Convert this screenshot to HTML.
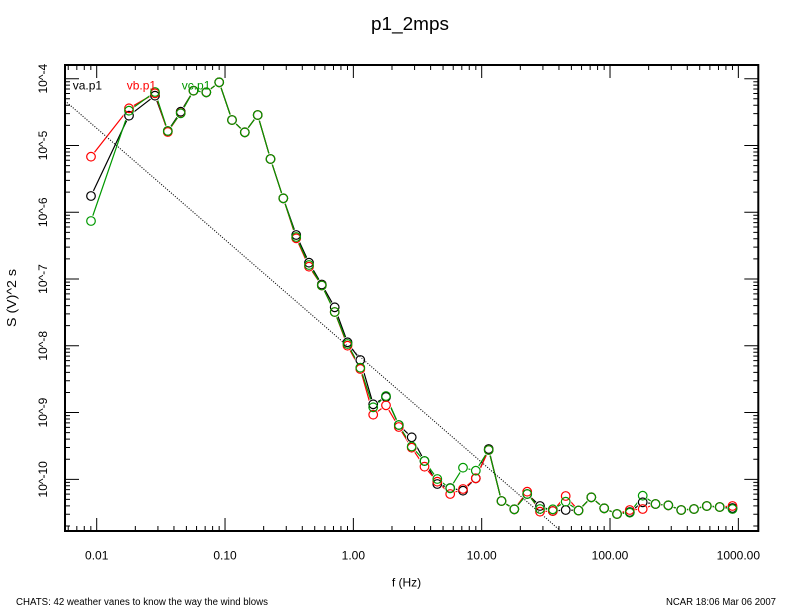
<!DOCTYPE html>
<html><head><meta charset="utf-8"><style>
html,body{margin:0;padding:0;background:#fff;}
svg{display:block;font-family:"Liberation Sans",Arial,sans-serif;}
</style></head><body>
<svg width="792" height="612" viewBox="0 0 792 612" xmlns="http://www.w3.org/2000/svg" xmlns:xlink="http://www.w3.org/1999/xlink">
<defs>
<path id="ytk" d="M65 78.7h14M65 145.47h14M65 212.24h14M65 279.01h14M65 345.78h14M65 412.55h14M65 479.32h14
M65 81.76h5M65 85.17h5M65 89.04h5M65 93.51h5M65 98.8h5M65 105.27h5M65 113.61h5M65 125.37h5
M65 148.53h5M65 151.94h5M65 155.81h5M65 160.28h5M65 165.57h5M65 172.04h5M65 180.38h5M65 192.14h5
M65 215.3h5M65 218.71h5M65 222.58h5M65 227.05h5M65 232.34h5M65 238.81h5M65 247.15h5M65 258.91h5
M65 282.07h5M65 285.48h5M65 289.35h5M65 293.82h5M65 299.11h5M65 305.58h5M65 313.92h5M65 325.68h5
M65 348.84h5M65 352.25h5M65 356.12h5M65 360.59h5M65 365.88h5M65 372.35h5M65 380.69h5M65 392.45h5
M65 415.61h5M65 419.02h5M65 422.89h5M65 427.36h5M65 432.65h5M65 439.12h5M65 447.46h5M65 459.22h5
M65 482.38h5M65 485.79h5M65 489.66h5M65 494.13h5M65 499.42h5M65 505.89h5M65 514.23h5M65 525.99h5"/>
<path id="xtk" d="M96.7 531v-13M225.03 531v-13M353.36 531v-13M481.69 531v-13M610.02 531v-13M738.35 531v-13
M68.23 531v-5M76.82 531v-5M84.27 531v-5M90.83 531v-5
M135.33 531v-5M157.93 531v-5M173.96 531v-5M186.4 531v-5M196.56 531v-5M205.15 531v-5M212.6 531v-5M219.16 531v-5
M263.66 531v-5M286.26 531v-5M302.29 531v-5M314.73 531v-5M324.89 531v-5M333.48 531v-5M340.93 531v-5M347.49 531v-5
M391.99 531v-5M414.59 531v-5M430.62 531v-5M443.06 531v-5M453.22 531v-5M461.81 531v-5M469.26 531v-5M475.82 531v-5
M520.32 531v-5M542.92 531v-5M558.95 531v-5M571.39 531v-5M581.55 531v-5M590.14 531v-5M597.59 531v-5M604.15 531v-5
M648.65 531v-5M671.25 531v-5M687.28 531v-5M699.72 531v-5M709.88 531v-5M718.47 531v-5M725.92 531v-5M732.48 531v-5"/>

<g id="pa">
<circle cx="91" cy="196" r="4.3"/><circle cx="129" cy="115.7" r="4.3"/><circle cx="155" cy="95.7" r="4.3"/><circle cx="167.8" cy="131" r="4.3"/><circle cx="180.7" cy="111.7" r="4.3"/><circle cx="193.5" cy="90.7" r="4.3"/><circle cx="206.3" cy="92.3" r="4.3"/><circle cx="219.2" cy="82.3" r="4.3"/><circle cx="232" cy="120" r="4.3"/><circle cx="244.8" cy="132.3" r="4.3"/><circle cx="257.7" cy="115" r="4.3"/><circle cx="270.5" cy="159" r="4.3"/><circle cx="283.3" cy="198.3" r="4.3"/><circle cx="296.2" cy="235" r="4.3"/><circle cx="309" cy="262.7" r="4.3"/><circle cx="321.8" cy="284.5" r="4.3"/><circle cx="334.7" cy="307.3" r="4.3"/><circle cx="347.5" cy="342.3" r="4.3"/><circle cx="360.3" cy="360" r="4.3"/><circle cx="373.2" cy="404.3" r="4.3"/><circle cx="386" cy="397" r="4.3"/><circle cx="398.8" cy="425" r="4.3"/><circle cx="411.7" cy="437.3" r="4.3"/><circle cx="424.5" cy="461" r="4.3"/><circle cx="437.3" cy="484" r="4.3"/><circle cx="450.2" cy="488" r="4.3"/><circle cx="463" cy="490.7" r="4.3"/><circle cx="475.8" cy="478.3" r="4.3"/><circle cx="488.7" cy="449" r="4.3"/><circle cx="501.5" cy="501" r="4.3"/><circle cx="514.3" cy="509.3" r="4.3"/><circle cx="527.2" cy="494" r="4.3"/><circle cx="540" cy="506" r="4.3"/><circle cx="552.8" cy="511" r="4.3"/><circle cx="565.7" cy="510" r="4.3"/><circle cx="578.5" cy="510.5" r="4.3"/><circle cx="591.3" cy="497.3" r="4.3"/><circle cx="604.2" cy="508.3" r="4.3"/><circle cx="617" cy="514" r="4.3"/><circle cx="629.8" cy="512" r="4.3"/><circle cx="642.7" cy="502.3" r="4.3"/><circle cx="655.5" cy="504" r="4.3"/><circle cx="668.3" cy="505.3" r="4.3"/><circle cx="681.2" cy="510" r="4.3"/><circle cx="694" cy="509" r="4.3"/><circle cx="706.8" cy="506" r="4.3"/><circle cx="719.7" cy="507" r="4.3"/><circle cx="732.5" cy="508" r="4.3"/>
</g>
<g id="pb">
<circle cx="91" cy="156.7" r="4.3"/><circle cx="129" cy="108.3" r="4.3"/><circle cx="155" cy="93.3" r="4.3"/><circle cx="167.8" cy="132" r="4.3"/><circle cx="180.7" cy="113" r="4.3"/><circle cx="193.5" cy="90.7" r="4.3"/><circle cx="206.3" cy="92.3" r="4.3"/><circle cx="219.2" cy="82.3" r="4.3"/><circle cx="232" cy="120" r="4.3"/><circle cx="244.8" cy="132.3" r="4.3"/><circle cx="257.7" cy="115" r="4.3"/><circle cx="270.5" cy="159" r="4.3"/><circle cx="283.3" cy="198.3" r="4.3"/><circle cx="296.2" cy="238.3" r="4.3"/><circle cx="309" cy="266.7" r="4.3"/><circle cx="321.8" cy="285.5" r="4.3"/><circle cx="334.7" cy="312" r="4.3"/><circle cx="347.5" cy="345.7" r="4.3"/><circle cx="360.3" cy="369" r="4.3"/><circle cx="373.2" cy="414.7" r="4.3"/><circle cx="386" cy="405.3" r="4.3"/><circle cx="398.8" cy="427" r="4.3"/><circle cx="411.7" cy="447.7" r="4.3"/><circle cx="424.5" cy="466.7" r="4.3"/><circle cx="437.3" cy="481.7" r="4.3"/><circle cx="450.2" cy="494" r="4.3"/><circle cx="463" cy="489" r="4.3"/><circle cx="475.8" cy="478.3" r="4.3"/><circle cx="488.7" cy="450" r="4.3"/><circle cx="501.5" cy="501" r="4.3"/><circle cx="514.3" cy="509.3" r="4.3"/><circle cx="527.2" cy="491.7" r="4.3"/><circle cx="540" cy="511.7" r="4.3"/><circle cx="552.8" cy="511" r="4.3"/><circle cx="565.7" cy="496" r="4.3"/><circle cx="578.5" cy="510.5" r="4.3"/><circle cx="591.3" cy="497.3" r="4.3"/><circle cx="604.2" cy="508.3" r="4.3"/><circle cx="617" cy="514" r="4.3"/><circle cx="629.8" cy="510" r="4.3"/><circle cx="642.7" cy="509" r="4.3"/><circle cx="655.5" cy="504" r="4.3"/><circle cx="668.3" cy="505.3" r="4.3"/><circle cx="681.2" cy="510" r="4.3"/><circle cx="694" cy="509" r="4.3"/><circle cx="706.8" cy="506" r="4.3"/><circle cx="719.7" cy="507" r="4.3"/><circle cx="732.5" cy="506" r="4.3"/>
</g>
<g id="pc">
<circle cx="91" cy="221" r="4.3"/><circle cx="129" cy="110.7" r="4.3"/><circle cx="155" cy="92" r="4.3"/><circle cx="167.8" cy="131" r="4.3"/><circle cx="180.7" cy="113.3" r="4.3"/><circle cx="193.5" cy="90.7" r="4.3"/><circle cx="206.3" cy="92.3" r="4.3"/><circle cx="219.2" cy="82.3" r="4.3"/><circle cx="232" cy="120" r="4.3"/><circle cx="244.8" cy="132.3" r="4.3"/><circle cx="257.7" cy="115" r="4.3"/><circle cx="270.5" cy="159" r="4.3"/><circle cx="283.3" cy="198.3" r="4.3"/><circle cx="296.2" cy="237" r="4.3"/><circle cx="309" cy="265" r="4.3"/><circle cx="321.8" cy="285.5" r="4.3"/><circle cx="334.7" cy="312" r="4.3"/><circle cx="347.5" cy="344" r="4.3"/><circle cx="360.3" cy="367.7" r="4.3"/><circle cx="373.2" cy="407.3" r="4.3"/><circle cx="386" cy="396" r="4.3"/><circle cx="398.8" cy="425" r="4.3"/><circle cx="411.7" cy="446.5" r="4.3"/><circle cx="424.5" cy="461" r="4.3"/><circle cx="437.3" cy="479" r="4.3"/><circle cx="450.2" cy="488.3" r="4.3"/><circle cx="463" cy="467.7" r="4.3"/><circle cx="475.8" cy="470.7" r="4.3"/><circle cx="488.7" cy="450" r="4.3"/><circle cx="501.5" cy="501" r="4.3"/><circle cx="514.3" cy="509.3" r="4.3"/><circle cx="527.2" cy="494" r="4.3"/><circle cx="540" cy="509" r="4.3"/><circle cx="552.8" cy="509.3" r="4.3"/><circle cx="565.7" cy="501.7" r="4.3"/><circle cx="578.5" cy="510.5" r="4.3"/><circle cx="591.3" cy="497.3" r="4.3"/><circle cx="604.2" cy="508.3" r="4.3"/><circle cx="617" cy="514" r="4.3"/><circle cx="629.8" cy="512.7" r="4.3"/><circle cx="642.7" cy="495.7" r="4.3"/><circle cx="655.5" cy="504" r="4.3"/><circle cx="668.3" cy="505.3" r="4.3"/><circle cx="681.2" cy="510" r="4.3"/><circle cx="694" cy="509" r="4.3"/><circle cx="706.8" cy="506" r="4.3"/><circle cx="719.7" cy="507" r="4.3"/><circle cx="732.5" cy="509" r="4.3"/>
</g>
</defs>

<rect x="0" y="0" width="792" height="612" fill="#fff"/>

<!-- title -->
<text x="410" y="30" font-size="18" text-anchor="middle" textLength="78" lengthAdjust="spacingAndGlyphs">p1_2mps</text>

<!-- ticks -->
<g stroke="#000" stroke-width="1" fill="none">
<use href="#ytk" xlink:href="#ytk"/>
<use href="#ytk" xlink:href="#ytk" transform="translate(823.3 0) scale(-1 1)"/>
<use href="#xtk" xlink:href="#xtk"/>
<use href="#xtk" xlink:href="#xtk" transform="translate(0 596) scale(1 -1)"/>
</g>

<!-- dotted -5/3 line -->
<line x1="65" y1="100.8" x2="560.8" y2="531" stroke="#222" stroke-width="1" stroke-dasharray="1 1.6"/>

<!-- series lines -->
<g fill="none" stroke-width="1.2" stroke-linejoin="round">
<polyline stroke="#000" points="91,196 129,115.7 155,95.7 167.8,131 180.7,111.7 193.5,90.7 206.3,92.3 219.2,82.3 232,120 244.8,132.3 257.7,115 270.5,159 283.3,198.3 296.2,235 309,262.7 321.8,284.5 334.7,307.3 347.5,342.3 360.3,360 373.2,404.3 386,397 398.8,425 411.7,437.3 424.5,461 437.3,484 450.2,488 463,490.7 475.8,478.3 488.7,449 501.5,501 514.3,509.3 527.2,494 540,506 552.8,511 565.7,510 578.5,510.5 591.3,497.3 604.2,508.3 617,514 629.8,512 642.7,502.3 655.5,504 668.3,505.3 681.2,510 694,509 706.8,506 719.7,507 732.5,508"/>
<polyline stroke="#f00" points="91,156.7 129,108.3 155,93.3 167.8,132 180.7,113 193.5,90.7 206.3,92.3 219.2,82.3 232,120 244.8,132.3 257.7,115 270.5,159 283.3,198.3 296.2,238.3 309,266.7 321.8,285.5 334.7,312 347.5,345.7 360.3,369 373.2,414.7 386,405.3 398.8,427 411.7,447.7 424.5,466.7 437.3,481.7 450.2,494 463,489 475.8,478.3 488.7,450 501.5,501 514.3,509.3 527.2,491.7 540,511.7 552.8,511 565.7,496 578.5,510.5 591.3,497.3 604.2,508.3 617,514 629.8,510 642.7,509 655.5,504 668.3,505.3 681.2,510 694,509 706.8,506 719.7,507 732.5,506"/>
<polyline stroke="#009900" points="91,221 129,110.7 155,92 167.8,131 180.7,113.3 193.5,90.7 206.3,92.3 219.2,82.3 232,120 244.8,132.3 257.7,115 270.5,159 283.3,198.3 296.2,237 309,265 321.8,285.5 334.7,312 347.5,344 360.3,367.7 373.2,407.3 386,396 398.8,425 411.7,446.5 424.5,461 437.3,479 450.2,488.3 463,467.7 475.8,470.7 488.7,450 501.5,501 514.3,509.3 527.2,494 540,509 552.8,509.3 565.7,501.7 578.5,510.5 591.3,497.3 604.2,508.3 617,514 629.8,512.7 642.7,495.7 655.5,504 668.3,505.3 681.2,510 694,509 706.8,506 719.7,507 732.5,509"/>
</g>

<!-- white knockouts so lines stop short of markers -->
<g fill="#fff" stroke="#fff" stroke-width="2.6">
<use href="#pa" xlink:href="#pa"/>
<use href="#pb" xlink:href="#pb"/>
<use href="#pc" xlink:href="#pc"/>
</g>

<!-- re-draw dotted line over knockouts -->
<line x1="65" y1="100.8" x2="560.8" y2="531" stroke="#222" stroke-width="1" stroke-dasharray="1 1.6"/>

<!-- markers -->
<use href="#pa" xlink:href="#pa" fill="none" stroke="#000" stroke-width="1.2"/>
<use href="#pb" xlink:href="#pb" fill="none" stroke="#f00" stroke-width="1.2"/>
<use href="#pc" xlink:href="#pc" fill="none" stroke="#009900" stroke-width="1.2"/>

<!-- frame -->
<rect x="65" y="65" width="693.3" height="466" fill="none" stroke="#000" stroke-width="2"/>

<!-- legend -->
<text x="72.7" y="89.5" font-size="12" fill="#000">va.p1</text>
<text x="126.7" y="89.5" font-size="12" fill="#f00">vb.p1</text>
<text x="181.7" y="89.5" font-size="12" fill="#009900">vc.p1</text>

<!-- y tick labels -->
<g font-size="12" text-anchor="middle" fill="#000">
<text transform="translate(47 78.7) rotate(-90)">10^-4</text>
<text transform="translate(47 145.47) rotate(-90)">10^-5</text>
<text transform="translate(47 212.24) rotate(-90)">10^-6</text>
<text transform="translate(47 279.01) rotate(-90)">10^-7</text>
<text transform="translate(47 345.78) rotate(-90)">10^-8</text>
<text transform="translate(47 412.55) rotate(-90)">10^-9</text>
<text transform="translate(47 479.32) rotate(-90)">10^-10</text>
</g>

<!-- x tick labels -->
<g font-size="12" text-anchor="middle" fill="#000">
<text x="96.7" y="559.5">0.01</text>
<text x="225.03" y="559.5">0.10</text>
<text x="353.36" y="559.5">1.00</text>
<text x="481.69" y="559.5">10.00</text>
<text x="610.02" y="559.5">100.00</text>
<text x="738.35" y="559.5">1000.00</text>
</g>

<!-- axis titles -->
<text x="406.5" y="586.5" font-size="12" text-anchor="middle">f (Hz)</text>
<text transform="translate(16 298) rotate(-90)" font-size="13" text-anchor="middle" textLength="58" lengthAdjust="spacingAndGlyphs">S (V)^2 s</text>

<!-- footer -->
<text x="16" y="605" font-size="10" textLength="252" lengthAdjust="spacingAndGlyphs">CHATS: 42 weather vanes to know the way the wind blows</text>
<text x="666" y="605" font-size="10" textLength="110" lengthAdjust="spacingAndGlyphs">NCAR 18:06 Mar 06 2007</text>
</svg>
</body></html>
